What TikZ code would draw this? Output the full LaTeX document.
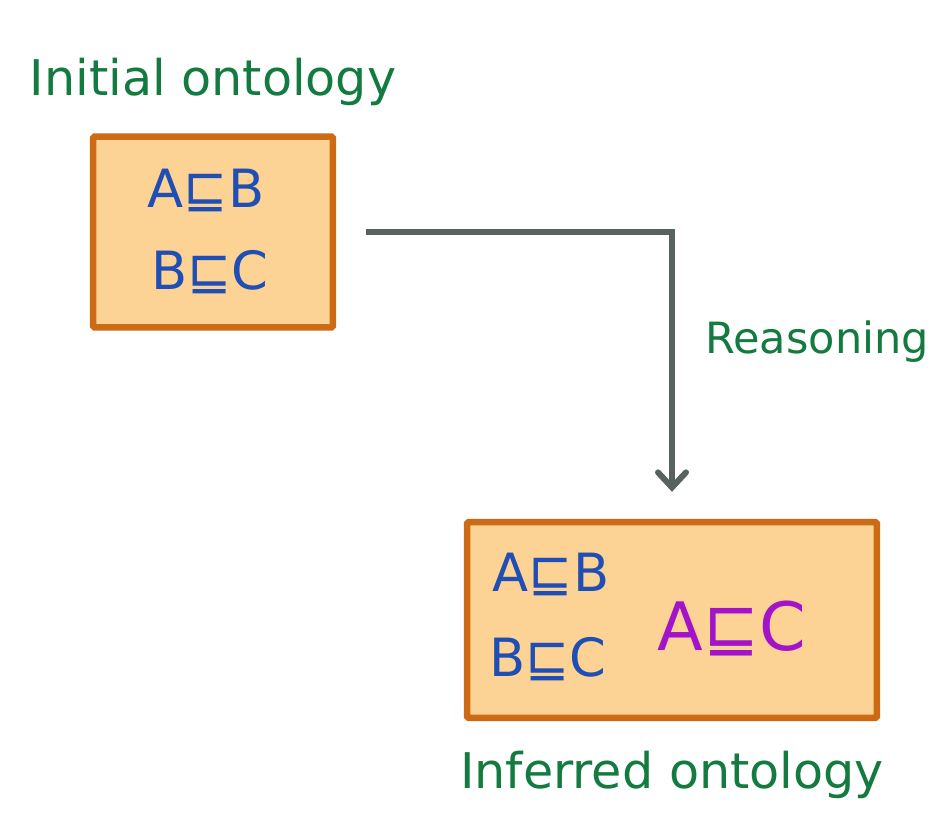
\documentclass[tikz,border=0pt]{standalone}
\usepackage{fontspec}
\setmainfont{DejaVu Sans}
\usepackage{xcolor}
\usetikzlibrary{arrows.meta,positioning}
\definecolor{boxfill}{HTML}{FCD394}
\definecolor{boxline}{HTML}{CC6A15}
\definecolor{inkgreen}{HTML}{137A40}
\definecolor{inkblue}{HTML}{1F4FB5}
\definecolor{inkpurple}{HTML}{A313C9}
\definecolor{arrgray}{HTML}{58625F}

\begin{document}
\begin{tikzpicture}[
  x=0.02cm, y=-0.02cm,
  onto/.style={draw=boxline, fill=boxfill, line width=0.13cm, rounded corners=1pt},
  axiom/.style={font=\fontsize{30}{34}\selectfont, text=inkblue, inner sep=0pt},
  infer/.style={font=\fontsize{38}{44}\selectfont, text=inkpurple, inner sep=0pt},
  lbl/.style={font=\fontsize{28}{33}\selectfont, text=inkgreen, inner sep=0pt},
  arr/.style={-{Straight Barb[length=3mm, width=5.6mm, line cap=round]}, line width=0.12cm, draw=arrgray},
]
\useasboundingbox (0,0) rectangle (951,819);
\node[onto, minimum width=4.8cm, minimum height=3.82cm] (initial) at (213,232) {};
\node[onto, minimum width=8.2cm, minimum height=3.92cm] (inferred) at (672,620) {};
% axioms
\node[axiom] (ab1) at (206,190) {A⊑B};
\node[axiom] (bc1) at (210,272) {B⊑C};
\node[axiom] (ab2) at (551,574) {A⊑B};
\node[axiom] (bc2) at (548,659) {B⊑C};
\node[infer] (ac2) at (732,628) {A⊑C};
% labels
\node[lbl, above=0.55cm of initial] (initlbl) {Initial ontology};
\node[lbl, below=0.6cm of inferred] (inflbl) {Inferred ontology};
% reasoning step
\draw[arr, shorten <=0.6cm, shorten >=0.54cm] (initial.east) -| (inferred.north);
\coordinate (bend) at (672,342);
\node[lbl, font=\fontsize{24.5}{29}\selectfont, anchor=west, xshift=0.66cm] (reason) at (bend) {Reasoning};
\end{tikzpicture}
\end{document}
